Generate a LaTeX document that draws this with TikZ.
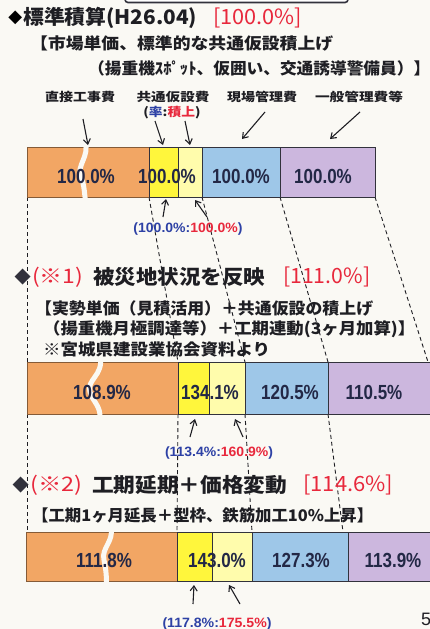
\documentclass[tikz,border=0pt]{standalone}
\usepackage{fontspec}
\usepackage{graphicx}
\usetikzlibrary{arrows.meta}
\setmainfont{Liberation Sans}
\newfontfamily\jp{Noto Sans CJK JP}
\newfontfamily\ls{Liberation Sans}
\newfontfamily\dv{DejaVu Sans}
\definecolor{bg}{RGB}{250,249,244}
\definecolor{ink}{RGB}{30,30,35}
\definecolor{numink}{RGB}{35,40,70}
\definecolor{tred}{RGB}{232,40,60}
\definecolor{tblue}{RGB}{45,65,165}
\definecolor{corange}{RGB}{242,166,100}
\definecolor{cyellow}{RGB}{255,246,60}
\definecolor{clyellow}{RGB}{255,252,172}
\definecolor{cblue}{RGB}{158,199,232}
\definecolor{cpurple}{RGB}{204,183,222}
\definecolor{barline}{RGB}{50,50,60}
\newcommand\fw[2]{\resizebox{#1}{\height}{#2}}
\tikzset{
  txt/.style={inner sep=0pt, text=ink},
  bartxt/.style={inner sep=0pt, text=numink, font=\ls\bfseries\fontsize{17}{20}\selectfont},
  ratio/.style={inner sep=0pt, text=tblue, font=\ls\bfseries\fontsize{13.5}{16}\selectfont},
  seg/.style={draw=barline, line width=1pt},
  dsh/.style={draw=ink, dash pattern=on 4pt off 3pt, line width=0.9pt},
  arr/.style={draw=ink, -{Straight Barb[length=5pt,width=7pt]}, line width=1.1pt},
  wavecut/.style={draw=bg, line width=5pt},
  diam/.style={inner sep=0pt, font=\dv\fontsize{18}{19}\selectfont},
}
\begin{document}
\begin{tikzpicture}[x=1pt,y=-1pt]
\fill[bg] (0,0) rectangle (430,629);
\useasboundingbox (0,0) rectangle (430,629);

% partial box at the top edge
\draw[line width=1.6pt, draw=barline, fill=white, rounded corners=3pt] (125,-10) rectangle (348,2.5);

% ---------- corner coordinates ----------
\coordinate (a0b) at (27,197);  \coordinate (a1b) at (149,197);
\coordinate (a3b) at (202,197); \coordinate (a4b) at (280,197);
\coordinate (a5b) at (375,197);
\coordinate (b1t) at (178,362); \coordinate (b3t) at (245,362);
\coordinate (b4t) at (328,362); \coordinate (b5t) at (428,362);
\coordinate (b1b) at (178,414); \coordinate (b3b) at (245,414);
\coordinate (b4b) at (328,414);
\coordinate (c0t) at (27,532);  \coordinate (c1t) at (177,532);
\coordinate (c3t) at (252,532); \coordinate (c4t) at (343,532);

% ---------- dashed guide lines ----------
\draw[dsh] (a0b) -- (c0t);
\draw[dsh] (a1b) -- (b1t);
\draw[dsh] (a3b) -- (b3t);
\draw[dsh] (a4b) -- (b4t);
\draw[dsh] (a5b) -- (b5t);
\draw[dsh] (b1b) -- (c1t);
\draw[dsh] (b3b) -- (c3t);
\draw[dsh] (b4b) -- (c4t);

% ---------- bar 1 ----------
\filldraw[seg, fill=corange, draw=corange!55!black] (27,147) rectangle (149,197);
\filldraw[seg, fill=cyellow] (149,147) rectangle (178,197);
\filldraw[seg, fill=clyellow] (178,147) rectangle (202,197);
\filldraw[seg, fill=cblue] (202,147) rectangle (280,197);
\filldraw[seg, fill=cpurple] (280,147) rectangle (375,197);
\draw[wavecut] (85,141) .. controls (90,157) and (76,165) .. (81,177) .. controls (85,187) and (84,194) .. (86,203);

% ---------- bar 2 ----------
\filldraw[seg, fill=corange, draw=corange!55!black] (27,362) rectangle (178,414);
\filldraw[seg, fill=cyellow] (178,362) rectangle (209,414);
\filldraw[seg, fill=clyellow] (209,362) rectangle (245,414);
\filldraw[seg, fill=cblue] (245,362) rectangle (328,414);
\filldraw[seg, fill=cpurple] (328,362) rectangle (433,414);
\draw[wavecut] (100,357) .. controls (104,375) and (86,380) .. (90,392) .. controls (93,402) and (101,406) .. (100,419);

% ---------- bar 3 ----------
\filldraw[seg, fill=corange, draw=corange!55!black] (26,532) rectangle (177,581);
\filldraw[seg, fill=cyellow] (177,532) rectangle (212,581);
\filldraw[seg, fill=clyellow] (212,532) rectangle (252,581);
\filldraw[seg, fill=cblue] (252,532) rectangle (348,581);
\filldraw[seg, fill=cpurple] (348,532) rectangle (433,581);
\draw[wavecut] (111,527) .. controls (114,542) and (101,548) .. (104,560) .. controls (106,570) and (107,578) .. (106,587);

% ---------- heading 1 ----------
\node[diam, anchor=east] (h1d) at (22.5,18) {◆};
\node[txt, anchor=west] (h1) at (23,18) {\fw{174pt}{\jp\bfseries\fontsize{20}{24}\selectfont 標準積算(H26.04)}};
\node[txt, anchor=west, text=tred] (h1p) at (213,18) {\fw{89pt}{\jp\fontsize{21}{24}\selectfont [100.0\%]}};
\node[txt, anchor=west] (s1a) at (30,43) {\fw{303pt}{\jp\bfseries\fontsize{16}{18}\selectfont 【市場単価、標準的な共通仮設積上げ}};
\node[txt, anchor=west] (s1b) at (88,68) {\fw{342pt}{\jp\bfseries\fontsize{16}{18}\selectfont （揚重機ｽﾎﾟｯﾄ、仮囲い、交通誘導警備員）】}};

% category labels
\node[txt] (k1) at (80,97) {\fw{70pt}{\jp\bfseries\fontsize{12}{14}\selectfont 直接工事費}};
\node[txt] (k2) at (173,97) {\fw{73pt}{\jp\bfseries\fontsize{12}{14}\selectfont 共通仮設費}};
\node[txt] (k3) at (262,97) {\fw{70pt}{\jp\bfseries\fontsize{12}{14}\selectfont 現場管理費}};
\node[txt] (k4) at (359,97) {\fw{88pt}{\jp\bfseries\fontsize{12}{14}\selectfont 一般管理費等}};
\node[txt] (k5) at (172,113) {\fw{57pt}{\jp\bfseries\fontsize{12}{14}\selectfont (\textcolor{tblue}{率}:\textcolor{tred}{積上})}};

% arrow ends
\coordinate (p1s) at (83,119);  \coordinate (p1e) at (88,145);
\coordinate (p2s) at (155,121); \coordinate (p2e) at (163,145);
\coordinate (p3s) at (185,121); \coordinate (p3e) at (190,145);
\coordinate (p4s) at (265,112); \coordinate (p4e) at (242,139);
\coordinate (p5s) at (360,112); \coordinate (p5e) at (330,139);
\draw[arr] (p1s) -- (p1e);
\draw[arr] (p2s) -- (p2e);
\draw[arr] (p3s) -- (p3e);
\draw[arr] (p4s) -- (p4e);
\draw[arr] (p5s) -- (p5e);

% bar 1 labels
\node[bartxt] (n11) at (86,176) {\scalebox{1}[1.2]{100.0\%}};
\node[bartxt] (n12) at (167,176) {\scalebox{1}[1.2]{100.0\%}};
\node[bartxt] (n13) at (241,176) {\scalebox{1}[1.2]{100.0\%}};
\node[bartxt] (n14) at (323,176) {\scalebox{1}[1.2]{100.0\%}};

% arrows below bar 1
\coordinate (q1s) at (163,217); \coordinate (q1e) at (166,199);
\coordinate (q2s) at (207,217); \coordinate (q2e) at (195,200);
\draw[arr] (q1s) -- (q1e);
\draw[arr] (q2s) -- (q2e);
\node[ratio] (r1) at (188,229) {\fw{109pt}{(100.0\%:\textcolor{tred}{100.0\%})}};

% ---------- heading 2 ----------
\node[diam, anchor=east, text=barline, font=\dv\fontsize{21}{22}\selectfont] (h2d) at (31,277) {◆};
\node[txt, anchor=west, text=tred] (h2a) at (32,277) {\fw{51pt}{\jp\fontsize{20}{24}\selectfont (※1)}};
\node[txt, anchor=west] (h2) at (93,277) {\fw{172pt}{\jp\bfseries\fontsize{20}{24}\selectfont 被災地状況を反映}};
\node[txt, anchor=west, text=tred] (h2p) at (283,277) {\fw{87pt}{\jp\fontsize{21}{24}\selectfont [111.0\%]}};
\node[txt, anchor=west] (s2a) at (35,308) {\fw{338pt}{\jp\bfseries\fontsize{16}{18}\selectfont 【実勢単価（見積活用）＋共通仮設の積上げ}};
\node[txt, anchor=west] (s2b) at (43,329) {\fw{372pt}{\jp\bfseries\fontsize{16}{18}\selectfont （揚重機月極調達等）＋工期連動(3ヶ月加算)】}};
\node[txt, anchor=west] (s2c) at (43,349) {\fw{227pt}{\jp\bfseries\fontsize{16}{18}\selectfont ※宮城県建設業協会資料より}};

% bar 2 labels
\node[bartxt] (n21) at (102,392) {\scalebox{1}[1.2]{108.9\%}};
\node[bartxt] (n22) at (210,392) {\scalebox{1}[1.2]{134.1\%}};
\node[bartxt] (n23) at (290,392) {\scalebox{1}[1.2]{120.5\%}};
\node[bartxt] (n24) at (374,392) {\scalebox{1}[1.2]{110.5\%}};

\coordinate (t1s) at (190,437); \coordinate (t1e) at (195,419);
\coordinate (t2s) at (243,437); \coordinate (t2e) at (235,419);
\draw[arr] (t1s) -- (t1e);
\draw[arr] (t2s) -- (t2e);
\node[ratio] (r2) at (219,453) {\fw{108pt}{(113.4\%:\textcolor{tred}{160.9\%})}};

% ---------- heading 3 ----------
\node[diam, anchor=east, text=barline, font=\dv\fontsize{21}{22}\selectfont] (h3d) at (29,485) {◆};
\node[txt, anchor=west, text=tred] (h3a) at (30,485) {\fw{52pt}{\jp\fontsize{20}{24}\selectfont (※2)}};
\node[txt, anchor=west] (h3) at (92,485) {\fw{195pt}{\jp\bfseries\fontsize{20}{24}\selectfont 工期延期＋価格変動}};
\node[txt, anchor=west, text=tred] (h3p) at (303,485) {\fw{90pt}{\jp\fontsize{21}{24}\selectfont [114.6\%]}};
\node[txt, anchor=west] (s3a) at (32,515) {\fw{341pt}{\jp\bfseries\fontsize{16}{18}\selectfont 【工期1ヶ月延長＋型枠、鉄筋加工10\%上昇】}};

% bar 3 labels
\node[bartxt] (n31) at (104,560) {\scalebox{1}[1.2]{111.8\%}};
\node[bartxt] (n32) at (217,560) {\scalebox{1}[1.2]{143.0\%}};
\node[bartxt] (n33) at (301,560) {\scalebox{1}[1.2]{127.3\%}};
\node[bartxt] (n34) at (393,560) {\scalebox{1}[1.2]{113.9\%}};

\coordinate (u1s) at (193,604); \coordinate (u1e) at (194,585);
\coordinate (u2s) at (240,604); \coordinate (u2e) at (229,585);
\draw[arr] (u1s) -- (u1e);
\draw[arr] (u2s) -- (u2e);
\node[ratio] (r3) at (217,624) {\fw{109pt}{(117.8\%:\textcolor{tred}{175.5\%})}};

% page number, cut at the edge
\node[txt, anchor=west, font=\ls\fontsize{18}{20}\selectfont] (pg) at (421,619) {5};
\end{tikzpicture}
\end{document}
